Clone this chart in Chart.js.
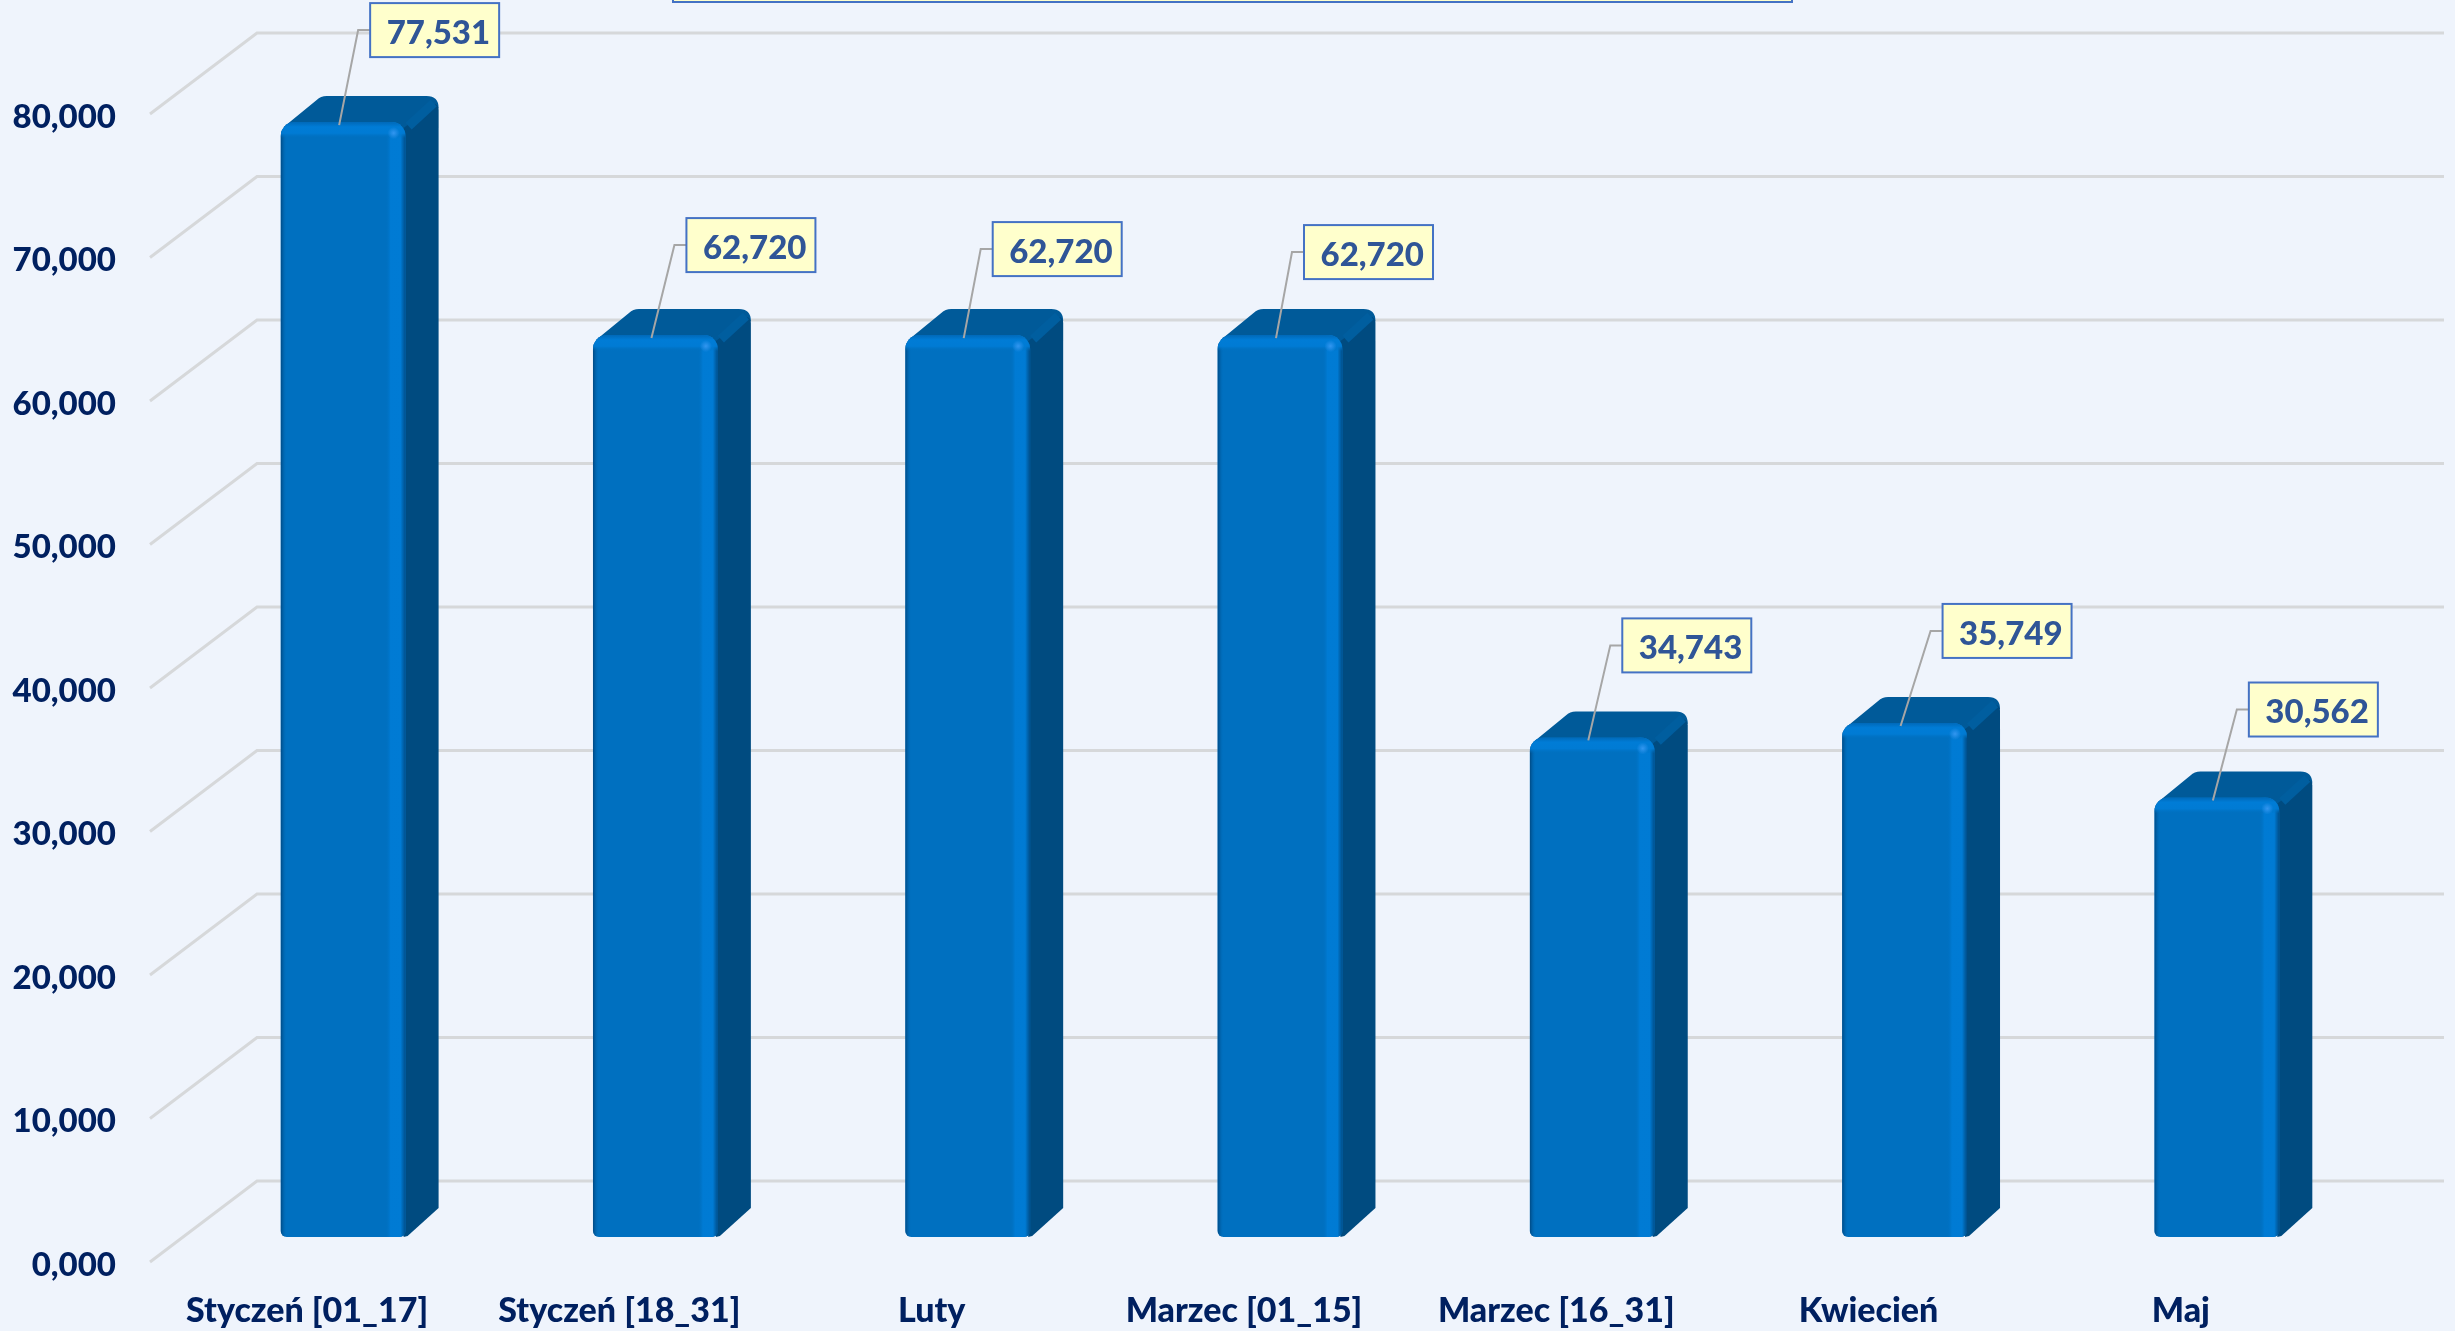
<!DOCTYPE html>
<html>
<head>
<meta charset="utf-8">
<style>
    html, body { margin: 0; padding: 0; background: #eff4fc; }
    #wrap { width: 2455px; height: 1331px; }
</style>
<script src="https://cdn.jsdelivr.net/npm/chart.js@4"></script>
</head>
<body>
<div id="wrap"><canvas id="chart" width="2455" height="1331"></canvas></div>
<script>
// Data (decimal comma in the picture, so 77,531 is 77.531)
const categories = ['Styczeń [01_17]', 'Styczeń [18_31]', 'Luty', 'Marzec [01_15]', 'Marzec [16_31]', 'Kwiecień', 'Maj']
const values = [77.531, 62.720, 62.720, 62.720, 34.743, 35.749, 30.562]
const tick_step = 10

// Where each callout box sits, relative to bar centre / bar top
const box_dx = [27, 31, 25, 24, 30, 38, 32]
const box_dy = [-119, -117, -113, -110, -119, -119, -115]

// Floor depth of the fake 3d wall and depth of the bars
const wall_dx = 107
const wall_dy = 81
const bar_dx = 33
const bar_dy = 26

function fmt(v) {
    return v.toFixed(3).replace('.', ',')
}

// Grid on the back wall and the slanted lines, plus the depth of the bars
const behindBars = {
    id: 'behindBars',
    beforeDatasetsDraw(chart) {
        const ctx = chart.ctx
        const y_axis = chart.scales.y
        const left = 150
        const right = 2444

        ctx.save()
        ctx.strokeStyle = '#d6d8da'
        ctx.lineWidth = 3
        y_axis.ticks.forEach(t => {
            const y = y_axis.getPixelForValue(t.value)
            ctx.beginPath()
            ctx.moveTo(left, y)
            ctx.lineTo(left + wall_dx, y - wall_dy)
            ctx.lineTo(right, y - wall_dy)
            ctx.stroke()
        })

        // title box, only its lower edge is still in the picture
        ctx.fillStyle = '#ffffcc'
        ctx.strokeStyle = '#4472c4'
        ctx.lineWidth = 2
        ctx.fillRect(673, -10, 1119, 12)
        ctx.strokeRect(673, -10, 1119, 12)

        chart.getDatasetMeta(0).data.forEach(bar => {
            const x1 = bar.x - bar.width / 2
            const x2 = bar.x + bar.width / 2
            const top = bar.y
            const bottom = bar.base

            // top face
            ctx.fillStyle = '#005a99'
            ctx.beginPath()
            ctx.moveTo(x1 + 3, top + 5)
            ctx.lineTo(x1 + bar_dx + 3, top - bar_dy + 4)
            ctx.quadraticCurveTo(x1 + bar_dx + 7, top - bar_dy, x1 + bar_dx + 13, top - bar_dy)
            ctx.lineTo(x2 + bar_dx - 12, top - bar_dy)
            ctx.quadraticCurveTo(x2 + bar_dx, top - bar_dy, x2 + bar_dx, top - bar_dy + 12)
            ctx.lineTo(x2, top + 10)
            ctx.closePath()
            ctx.fill()

            // right side
            ctx.fillStyle = '#004b80'
            ctx.beginPath()
            ctx.moveTo(x2 - 2, top + 6)
            ctx.lineTo(x2 + bar_dx - 3, top - bar_dy + 8)
            ctx.quadraticCurveTo(x2 + bar_dx, top - bar_dy + 10, x2 + bar_dx, top - bar_dy + 14)
            ctx.lineTo(x2 + bar_dx, bottom - bar_dy - 3)
            ctx.lineTo(x2 + 2, bottom - 1)
            ctx.lineTo(x2 - 2, bottom)
            ctx.closePath()
            ctx.fill()

            // lighter bevel on the back right corner
            ctx.strokeStyle = '#005e9f'
            ctx.lineWidth = 9
            ctx.beginPath()
            ctx.moveTo(x2 + 3, top + 4)
            ctx.lineTo(x2 + bar_dx - 5, top - bar_dy + 7)
            ctx.stroke()
        })
        ctx.restore()
    }
}

// Shine on the bars, leader lines and the yellow boxes
const overBars = {
    id: 'overBars',
    afterDatasetsDraw(chart) {
        const ctx = chart.ctx
        ctx.save()
        chart.getDatasetMeta(0).data.forEach((bar, i) => {
            const x1 = bar.x - bar.width / 2
            const x2 = bar.x + bar.width / 2
            const top = bar.y
            const bottom = bar.base

            ctx.save()
            ctx.beginPath()
            ctx.roundRect(x1, top, x2 - x1, bottom - top, [14, 14, 6, 6])
            ctx.clip()

            let g = ctx.createLinearGradient(x1, 0, x2, 0)
            g.addColorStop(0, 'rgba(0,60,110,0.75)')
            g.addColorStop(0.05, 'rgba(0,112,192,0)')
            g.addColorStop(0.84, 'rgba(0,112,192,0)')
            g.addColorStop(0.88, 'rgba(0,124,214,0.9)')
            g.addColorStop(0.96, 'rgba(0,124,214,0.9)')
            g.addColorStop(1, 'rgba(0,70,125,0.8)')
            ctx.fillStyle = g
            ctx.fillRect(x1, top, x2 - x1, bottom - top)

            g = ctx.createLinearGradient(0, top, 0, top + 16)
            g.addColorStop(0, 'rgba(0,105,185,1)')
            g.addColorStop(0.3, 'rgba(0,124,214,1)')
            g.addColorStop(0.7, 'rgba(0,124,214,0.9)')
            g.addColorStop(1, 'rgba(0,112,192,0)')
            ctx.fillStyle = g
            ctx.fillRect(x1, top, x2 - x1, 16)

            g = ctx.createRadialGradient(x2 - 12, top + 11, 0, x2 - 12, top + 11, 6)
            g.addColorStop(0, 'rgba(50,150,240,1)')
            g.addColorStop(1, 'rgba(50,150,240,0)')
            ctx.fillStyle = g
            ctx.fillRect(x2 - 20, top + 3, 16, 16)
            ctx.restore()

            // leader line
            const box_x = bar.x + box_dx[i]
            const box_y = top + box_dy[i]
            ctx.strokeStyle = '#a6a6a6'
            ctx.lineWidth = 2
            ctx.beginPath()
            ctx.moveTo(box_x, box_y + 27)
            ctx.lineTo(box_x - 12, box_y + 27)
            ctx.lineTo(bar.x - 4, top + 3)
            ctx.stroke()

            // box
            ctx.fillStyle = '#ffffcc'
            ctx.strokeStyle = '#4472c4'
            ctx.lineWidth = 2
            ctx.fillRect(box_x, box_y, 129, 54)
            ctx.strokeRect(box_x, box_y, 129, 54)

            ctx.fillStyle = '#2f5597'
            ctx.font = '900 33px Lato'
            ctx.textAlign = 'right'
            ctx.textBaseline = 'middle'
            ctx.fillText(fmt(values[i]), box_x + 120, box_y + 30)
        })
        ctx.restore()
    }
}

new Chart(document.getElementById('chart'), {
    type: 'bar',
    data: {
        labels: categories,
        datasets: [{
            data: values,
            yAxisID: 'y_bars',
            backgroundColor: '#0070c0',
            borderWidth: 0,
            borderSkipped: false,
            borderRadius: { topLeft: 14, topRight: 14, bottomLeft: 6, bottomRight: 6 },
            barPercentage: 0.4,
            categoryPercentage: 1
        }]
    },
    plugins: [behindBars, overBars],
    options: {
        responsive: false,
        animation: false,
        events: [],
        layout: { padding: { top: 32, right: 82, left: 0, bottom: 0 } },
        plugins: {
            legend: { display: false },
            title: { display: false },
            tooltip: { enabled: false }
        },
        scales: {
            x: {
                grid: { display: false },
                border: { display: false },
                afterFit(scale) { scale.height = 69 },
                ticks: {
                    color: '#002060',
                    font: { family: 'Lato', weight: '900', size: 34 },
                    padding: 21,
                    labelOffset: -36,
                    maxRotation: 0,
                    autoSkip: false
                }
            },
            // the axis with the labels, these sit on the front edge of the wall
            y: {
                position: 'left',
                min: 0,
                max: 85.714,
                // tickLength instead of ticks.padding, padding would also shrink the chart area
                grid: { display: false, drawTicks: true, tickLength: 71 },
                border: { display: false },
                afterFit(scale) { scale.width = 187 },
                ticks: {
                    stepSize: tick_step,
                    includeBounds: false,
                    color: '#002060',
                    font: { family: 'Lato', weight: '900', size: 33 },
                    padding: 0,
                    labelOffset: 3,
                    callback: function(v) { return fmt(v) }
                }
            },
            // the bars stand a bit in front of the wall, so their own scale
            y_bars: {
                display: false,
                min: -1.7385,
                max: 83.797
            }
        }
    }
});
</script>
</body>
</html>
